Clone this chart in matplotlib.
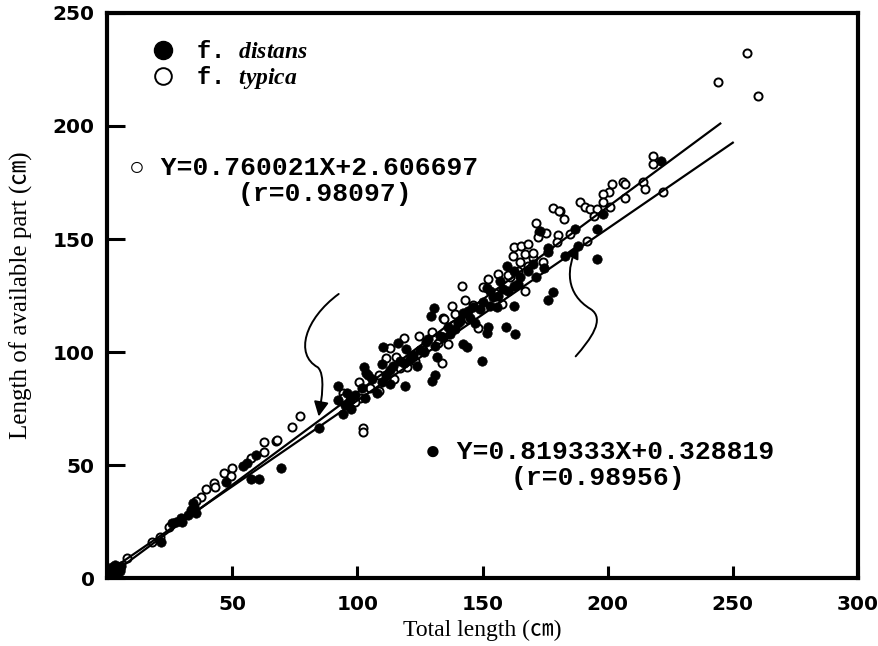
import numpy as np
import matplotlib
matplotlib.use('Agg')
import matplotlib.pyplot as plt
from matplotlib.lines import Line2D
from matplotlib.patches import FancyArrowPatch
from matplotlib.path import Path

# f. typica (open circles)
typ_x = [255.8, 244.2, 260.2, 218, 218, 222, 214, 215, 206, 207, 201.6, 200.4, 198, 198, 207,
         189, 190.8, 193, 195.6, 194.4, 201, 182.4, 181, 191.6, 171.2, 172.4, 175.2, 172, 180,
         179.6, 162.4, 165.5, 168, 162, 167, 170.3, 165, 168, 174, 156.3, 161, 167, 152.3, 150.3,
         141.8, 143, 157.8, 137.8, 139, 144.3, 134.3, 148.3, 136.2, 133.7, 134.6, 129.8, 124.6,
         118.6, 113, 115.4, 111.4, 119.8, 108.5, 114.5, 108.5, 100.5, 100.9, 94.1, 94.1, 96.5,
         102.1, 102.1, 77.2, 74, 62.8, 67.6, 62.8, 57.6, 50, 46.7, 49.6, 42.7, 43.1, 39.5, 37.5,
         35.5, 24.7, 17.9, 21.1, 7.8, 68, 178, 180.4, 3, 5,
         146, 155, 138, 126, 117, 105, 99, 160, 164, 170, 185, 132, 123]
typ_y = [232.2, 219.4, 213.1, 186.5, 183, 171, 175.4, 172.3, 175, 174.5, 174.5, 171, 170, 166.5, 168,
         166.5, 164.3, 163.4, 163.4, 160, 164, 159, 162.5, 149, 157.2, 153.2, 152.8, 151, 151.9,
         148.8, 146.5, 147, 147.9, 142.5, 143.4, 141.7, 139.9, 138.1, 139.9, 134.5, 133.2, 127, 132.3, 128.8,
         129.2, 123, 121.2, 120.3, 116.8, 114.6, 115, 110.6, 103.5, 95, 114.6, 108.8, 107,
         106.1, 101.7, 97.7, 97.2, 93.3, 89.7, 87.9, 82.6, 86.6, 79.9, 82.1, 79.9, 76.8,
         66.2, 64.8, 71.9, 67, 60.4, 60.8, 56, 53.3, 48.8, 46.6, 45.3, 42.2, 40.4, 39.5, 36,
         34.2, 22.6, 16, 18.2, 8.9, 61.3, 163.9, 162.5, 3, 4,
         121, 126, 112, 101, 93, 84, 78, 134, 136, 144, 152, 104, 96]

# f. distans (filled circles)
dis_x = [221.3, 198, 187, 195.6, 182.8, 195.6, 173, 176, 159.6, 162.4, 168, 174.4, 171.2, 157, 162.4,
         151.8, 178, 176, 154.3, 153, 155.8, 162.4, 146.3, 149, 142.3, 141, 159.2, 163, 152.3, 151.8,
         137, 142.3, 143.9, 149.9, 130.6, 129.4, 127.4, 131, 134.2, 116.2, 119.4, 110.2, 122.2, 126.6,
         109.7, 114.1, 118.6, 123.8, 131.8, 129.8, 131, 102.5, 103.3, 104.1, 111.4, 112.9, 109.7, 119,
         107.7, 101.7, 103, 92.1, 95.7, 92.1, 94.9, 97.3, 94.1, 84.5, 69.6, 59.6, 57.6, 60.8, 54.4,
         56, 47.6, 34.7, 33.5, 35.5, 32.3, 34.1, 29.5, 27.5, 25.9, 29.9, 21.5,
         1, 2, 3, 4, 5, 2, 5.5, 3, 1.5, 4,
         145, 147, 156, 160, 165, 158, 139, 128, 121, 117, 113, 106, 99, 97, 125, 133, 136, 140,
         144, 150, 153, 164, 170, 176, 188]
dis_y = [184.3, 161, 154.5, 154.5, 142.5, 141, 153.6, 144.3, 138.1, 135.9, 135.9, 137.2, 133.2, 131.4, 129.2,
         128.3, 126.6, 123, 124.3, 120.3, 119.9, 120.3, 119.9, 119, 117.2, 113.7, 111, 107.9, 111, 108.3,
         107.9, 103.5, 102.1, 95.9, 119.5, 115.9, 104.4, 102.6, 106.6, 103.9, 101.2, 102.1, 98.6, 99.9,
         94.6, 93.7, 95, 93.7, 97.7, 87, 89.7, 93.3, 90.6, 89.7, 89.7, 85.7, 86.6, 84.8,
         81.7, 83.9, 79.9, 84.8, 81.7, 78.6, 76.8, 74.6, 72.4, 66.6, 48.8, 54.6, 44, 44, 49.7,
         51, 42.6, 31.5, 30.2, 28.9, 28, 33.3, 26.6, 24.9, 24.4, 24.9, 16,
         1, 3, 2, 4, 3, 5, 5.5, 6, 3, 1.5,
         115, 113, 125, 127, 133, 128, 110, 106, 97, 96, 92, 88, 81, 79, 101, 107, 111, 113,
         118, 122, 127, 130, 139, 146, 147]

# regression lines
typ_a, typ_b = 0.760021, 2.606697
dis_a, dis_b = 0.819333, 0.328819
typ_line_x = [1, 250]
dis_line_x = [1, 245]

xticks = [50, 100, 150, 200, 250, 300]
yticks = [0, 50, 100, 150, 200, 250]

plt.rcParams['mathtext.fontset'] = 'custom'
plt.rcParams['mathtext.it'] = 'Liberation Serif:italic:bold'
plt.rcParams['mathtext.rm'] = 'Liberation Mono:bold'

fig = plt.figure(figsize=(8.79, 6.46), dpi=100)
ax = fig.add_axes([0.122, 0.105, 0.854, 0.875])

ax.scatter(typ_x, typ_y, s=34, facecolors='white', edgecolors='black', linewidths=1.4, zorder=3)
ax.scatter(dis_x, dis_y, s=46, facecolors='black', edgecolors='black', linewidths=0.5, zorder=4)

tx = np.array(typ_line_x, dtype=float)
dx = np.array(dis_line_x, dtype=float)
ax.plot(tx, typ_a * tx + typ_b, color='black', lw=1.6, zorder=5)
ax.plot(dx, dis_a * dx + dis_b, color='black', lw=1.6, zorder=5)

# curved arrows
left_arrow = Path([(92.5, 125.7), (78.9, 114.6), (74.8, 99.0), (84.1, 93.3),
                   (87.3, 90.1), (85.7, 79.0), (84.5, 71.5)],
                  [Path.MOVETO, Path.CURVE4, Path.CURVE4, Path.CURVE4,
                   Path.CURVE4, Path.CURVE4, Path.CURVE4])
right_arrow = Path([(187.2, 98.1), (193.2, 105.7), (199.2, 114.6), (193.2, 119.0),
                    (183.2, 125.7), (183.2, 136.8), (188.4, 147.9)],
                   [Path.MOVETO, Path.CURVE4, Path.CURVE4, Path.CURVE4,
                    Path.CURVE4, Path.CURVE4, Path.CURVE4])
for p in (left_arrow, right_arrow):
    ax.add_patch(FancyArrowPatch(path=p, arrowstyle='-|>', mutation_scale=22,
                                 lw=1.4, color='black', zorder=6))

eq_font = dict(family=['Liberation Mono', 'DejaVu Sans'], weight='bold', fontsize=19)
ax.text(8.5, 181.2, '\u25cb Y=0.760021X+2.606697', va='center', ha='left', **eq_font)
ax.text(87, 170, '(r=0.98097)', va='center', ha='center', **eq_font)
ax.text(127, 56, '\u25cf Y=0.819333X+0.328819', va='center', ha='left', **eq_font)
ax.text(196, 44.4, '(r=0.98956)', va='center', ha='center', **eq_font)

handles = [Line2D([], [], marker='o', ls='none', markersize=13, markerfacecolor='black',
                  markeredgecolor='black'),
           Line2D([], [], marker='o', ls='none', markersize=12, markerfacecolor='white',
                  markeredgecolor='black', markeredgewidth=1.4)]
ax.legend(handles, [r'f. $distans$', r'f. $typica$'], loc='upper left',
          bbox_to_anchor=(0.015, 0.99), frameon=False, handletextpad=0.4,
          labelspacing=0.05, prop=dict(family='Liberation Mono', weight='bold', size=17))

ax.set_xlim(0, 300)
ax.set_ylim(0, 250)
ax.set_xticks(xticks)
ax.set_yticks(yticks)
ax.tick_params(axis='x', direction='in', length=9, width=2.2, pad=12)
ax.tick_params(axis='y', direction='in', length=13, width=2.2, pad=9)
for lab in ax.get_xticklabels() + ax.get_yticklabels():
    lab.set_family('DejaVu Sans')
    lab.set_fontweight('bold')
    lab.set_fontsize(14.5)
for s in ax.spines.values():
    s.set_linewidth(3)

lab_font = dict(family=['Liberation Serif', 'Noto Sans CJK JP'], fontsize=17)
ax.set_xlabel('Total length (\u339d)', labelpad=4, **lab_font)
ax.set_ylabel('Length of available part (\u339d)', labelpad=14, fontsize=18,
              family=['Liberation Serif', 'Noto Sans CJK JP'])

fig.savefig('out.png', dpi=100)
